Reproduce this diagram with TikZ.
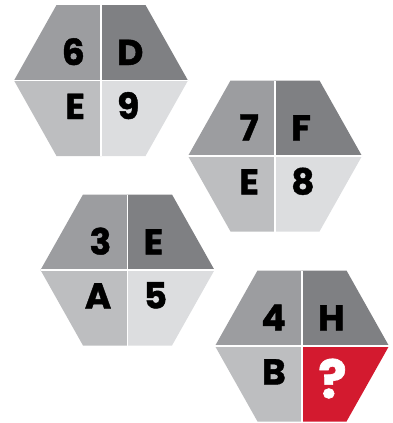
\documentclass[tikz,border=0pt]{standalone}
\usepackage{fontspec}
\setmainfont{Poppins}[BoldFeatures={FakeBold=1.2}]
\definecolor{tlc}{HTML}{9C9DA0}
\definecolor{trc}{HTML}{7F8083}
\definecolor{blc}{HTML}{BDBEC0}
\definecolor{brc}{HTML}{DCDDDF}
\definecolor{qred}{HTML}{D31A2F}
\tikzset{
  lbl/.style={inner sep=0pt, text height=25pt, text depth=0pt, font=\fontsize{36}{36}\selectfont\bfseries},
  plain/.style={},
  qmark/.style={text=white, text height=37pt, yshift=-7.5pt, font=\fontsize{53}{53}\selectfont\bfseries},
  divider/.style={draw=white, line width=1.3pt}
}
\newcommand{\hexa}[9]{%
\begin{scope}[shift={(#1,#2)}]
  \fill[tlc] (-44.5,-75.5) -- (0,-75.5) -- (0,0) -- (-87,0) -- cycle;
  \fill[trc] (0,-75.5) -- (44.5,-75.5) -- (87,0) -- (0,0) -- cycle;
  \fill[blc] (-87,0) -- (0,0) -- (0,75.5) -- (-44.5,75.5) -- cycle;
  \fill[#8] (0,0) -- (87,0) -- (44.5,75.5) -- (0,75.5) -- cycle;
  \draw[divider] (0,-75.5) -- (0,75.5);
  \draw[divider] (-87,0) -- (87,0);
  \node[lbl, anchor=east] (#3tl) at (-16,-28) {#4};
  \node[lbl, anchor=west] (#3tr) at (16,-28) {#5};
  \node[lbl, anchor=east] (#3bl) at (-16,26) {#6};
  \node[lbl, anchor=west, #9] (#3br) at (16,26) {#7};
\end{scope}}
\begin{document}
\begin{tikzpicture}[x=1pt,y=-1pt]
\useasboundingbox (0,0) rectangle (393,423);
\hexa{101}{80.5}{a}{6}{D}{E}{9}{brc}{plain}
\hexa{275}{156}{b}{7}{F}{E}{8}{brc}{plain}
\hexa{127.5}{270}{c}{3}{E}{A}{5}{brc}{plain}
\hexa{302}{346}{d}{4}{H}{B}{?}{qred}{qmark}
\end{tikzpicture}
\end{document}
